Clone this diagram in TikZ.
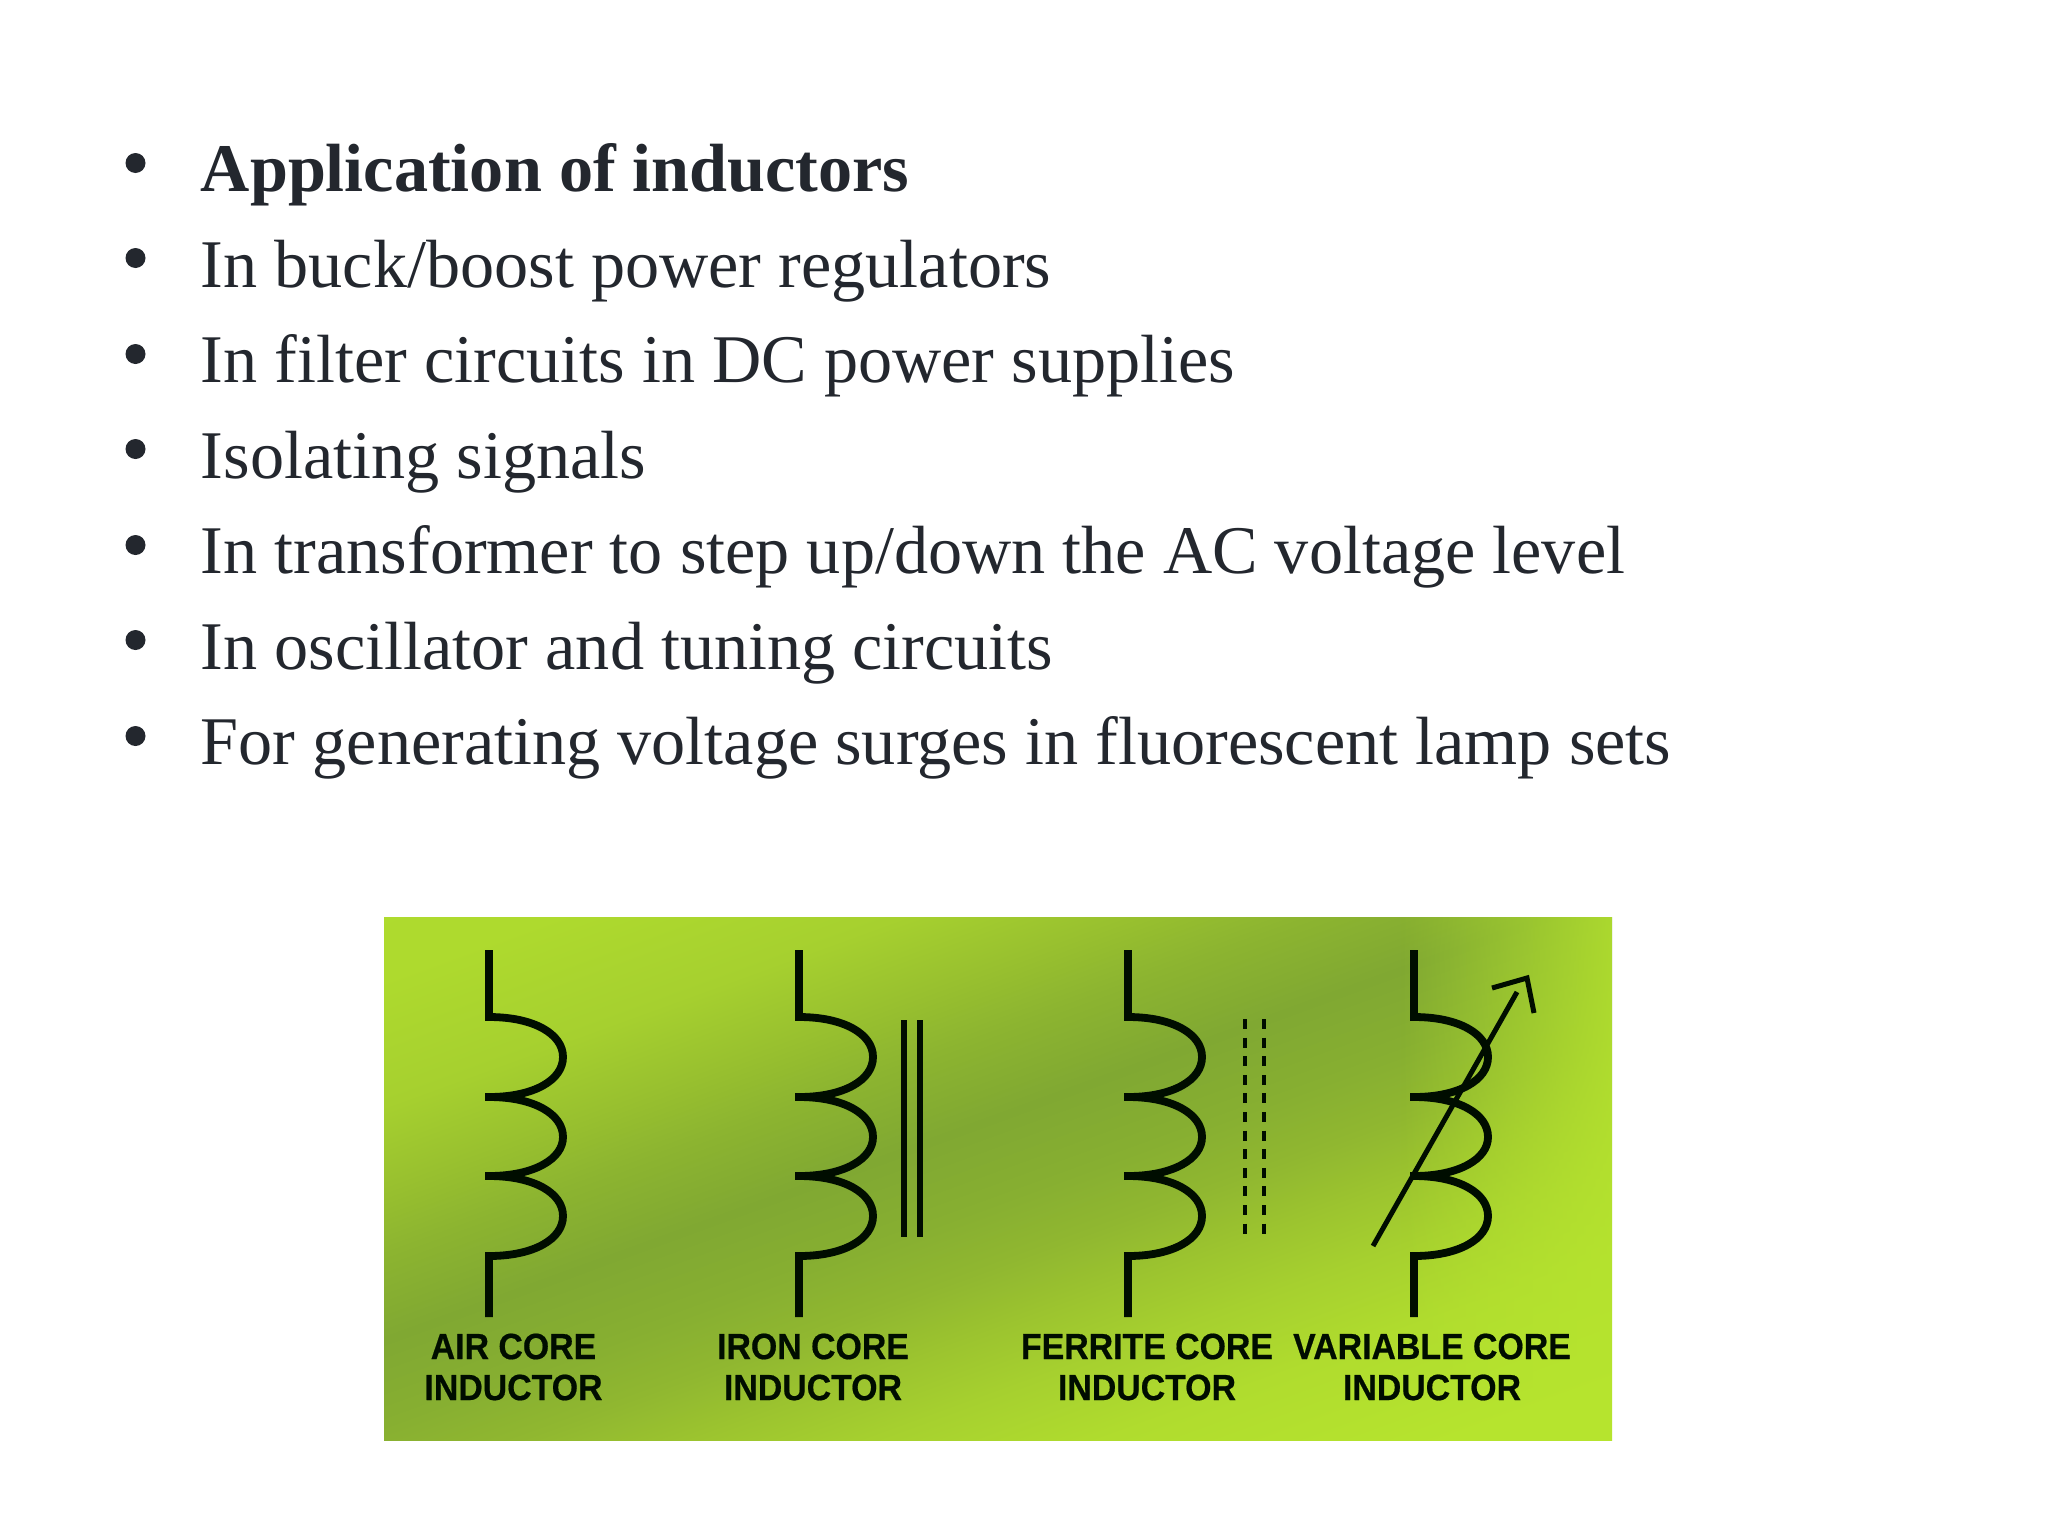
\documentclass[tikz,border=0pt]{standalone}
\usepackage{fontspec}
\setmainfont{Liberation Serif}
\newfontfamily\labelfont[FakeStretch=0.93,BoldFeatures={FakeBold=0.5}]{Liberation Sans}
\usetikzlibrary{fadings}
\definecolor{inktext}{HTML}{23272E}
\definecolor{limebright}{HTML}{B6E42E}
\definecolor{gA}{HTML}{B0DC2E}
\definecolor{gA2}{HTML}{A6D02F}
\definecolor{gB}{HTML}{9CC42F}
\definecolor{gC}{HTML}{90B730}
\definecolor{gC2}{HTML}{87AF31}
\definecolor{gD}{HTML}{80A832}
\definecolor{gE}{HTML}{8CB430}
\definecolor{gF}{HTML}{98C02F}
\definecolor{gG}{HTML}{A6D02F}
\definecolor{gH}{HTML}{AEDA2E}
\definecolor{gI}{HTML}{B2E02E}
\pgfdeclareverticalshading{greenband}{100bp}{
 color(0bp)=(limebright);
 color(30bp)=(limebright);
 color(36bp)=(gA);
 color(40bp)=(gA2);
 color(43bp)=(gB);
 color(46bp)=(gC);
 color(49bp)=(gC2);
 color(53bp)=(gD);
 color(57bp)=(gE);
 color(60bp)=(gF);
 color(64bp)=(gG);
 color(70bp)=(gH);
 color(100bp)=(gI)}
\tikzfading[name=fadeeast, left color=transparent!100, right color=transparent!20]
\tikzset{
 bullettext/.style={anchor=base west,inner sep=0pt,font=\fontsize{34.1}{34}\selectfont,text=inktext},
 bulletdot/.style={circle,fill=inktext,inner sep=0pt,minimum size=10pt},
 lead/.style={line width=3.9pt,draw=black!95!green},
 corebar/.style={line width=2.6pt,draw=black!95!green},
 dashbar/.style={line width=2.4pt,draw=black!95!green,dash pattern=on 5pt off 4.3pt},
 tuner/.style={line width=2.5pt,draw=black!95!green},
 caption/.style={align=center,inner sep=0pt,font=\labelfont\bfseries\fontsize{18.2}{20.5}\selectfont,text=black!95!green},
 pics/coil/.style={code={
  \draw[lead] (0,0) -- (0,67) .. controls (45,67) and (74,84) .. (74,107) .. controls (74,130) and (45,147) .. (0,147)
    .. controls (45,147) and (74,164) .. (74,187) .. controls (74,209) and (45,226) .. (0,226)
    .. controls (45,226) and (74,243) .. (74,266) .. controls (74,289) and (45,306) .. (0,306) -- (0,367);
  \draw[lead] (-4,147) -- (8,147);
  \draw[lead] (-4,226) -- (8,226);
 }}
}
\begin{document}
\begin{tikzpicture}[x=0.5pt,y=-0.5pt]
\useasboundingbox (0,0) rectangle (2048,1536);
\fill[white] (0,0) rectangle (2048,1536);
% bullets
\foreach \n/\yy in {a/163,b/258,c/354,d/449,e/545,f/640,g/736}{
  \node[bulletdot] (dot\n) at (135.5,\yy) {};
}
\node[bullettext,font=\fontsize{34.1}{34}\selectfont\bfseries] (t1) at (200.5,191.5) {Application of inductors};
\node[bullettext] (t2) at (200.5,287) {In buck/boost power regulators};
\node[bullettext] (t3) at (200.5,382.5) {In filter circuits in DC power supplies};
\node[bullettext] (t4) at (200.5,478) {Isolating signals};
\node[bullettext] (t5) at (200.5,573.5) {In transformer to step up/down the AC voltage level};
\node[bullettext] (t6) at (200.5,669) {In oscillator and tuning circuits};
\node[bullettext] (t7) at (200.5,764.5) {For generating voltage surges in fluorescent lamp sets};
% panel
\begin{scope}
 \clip (384,917) rectangle (1612,1440);
 \path[transform canvas={rotate around={20:(998,1180)}},shading=greenband] (98,680) rectangle (1898,1680);
 \fill[limebright,path fading=fadeeast] (1400,917) rectangle (1612,1440);
\end{scope}
% symbols
\pic at (489,950) {coil};
\pic at (799,950) {coil};
\pic at (1128,950) {coil};
\pic at (1414,950) {coil};
\coordinate (irA) at (904,1020);
\coordinate (irB) at (904,1237);
\coordinate (irC) at (920,1020);
\coordinate (irD) at (920,1237);
\draw[corebar] (irA) -- (irB);
\draw[corebar] (irC) -- (irD);
\coordinate (feA) at (1245,1019);
\coordinate (feB) at (1245,1235);
\coordinate (feC) at (1264,1019);
\coordinate (feD) at (1264,1235);
\draw[dashbar] (feA) -- (feB);
\draw[dashbar] (feC) -- (feD);
\coordinate (arA) at (1373,1246);
\coordinate (arB) at (1517,992);
\coordinate (arL) at (1492,988);
\coordinate (arT) at (1527,978);
\coordinate (arR) at (1534,1013);
\draw[tuner] (arA) -- (arB);
\draw[tuner] (arL) -- (arT) -- (arR);
% captions
\node[caption] (c1) at (513.5,1367) {AIR CORE\\INDUCTOR};
\node[caption] (c2) at (813,1367) {IRON CORE\\INDUCTOR};
\node[caption] (c3) at (1147,1367) {FERRITE CORE\\INDUCTOR};
\node[caption] (c4) at (1432,1367) {VARIABLE CORE\\INDUCTOR};
\end{tikzpicture}
\end{document}
